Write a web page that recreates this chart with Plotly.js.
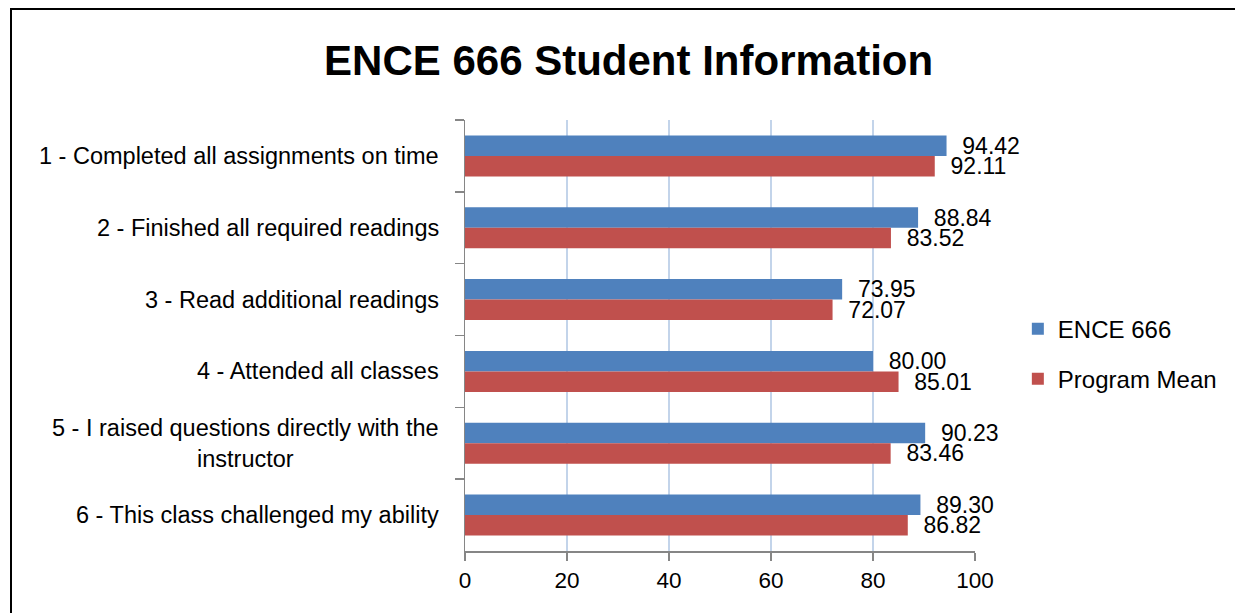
<!DOCTYPE html>
<html>
<head>
<meta charset="utf-8">
<script src="https://cdn.plot.ly/plotly-3.0.1.min.js"></script>
<style>
  html, body { margin: 0; padding: 0; background: #fff; }
  #wrap { position: relative; width: 1235px; height: 613px; overflow: hidden; }
  #chart { width: 1235px; height: 613px; }
  #frame { position: absolute; left: 10px; top: 8px; width: 1240px; height: 620px;
           border: 2px solid #000; pointer-events: none; box-sizing: border-box; }
</style>
</head>
<body>
<div id="wrap">
  <div id="chart"></div>
  <div id="frame"></div>
</div>
<script>
const categories = [
  "1 - Completed all assignments on time",
  "2 - Finished all required readings",
  "3 - Read additional readings",
  "4 - Attended all classes",
  "5 - I raised questions directly with the<br>instructor",
  "6 - This class challenged my ability"
];
const ence666 = [94.42, 88.84, 73.95, 80.00, 90.23, 89.30];
const programMean = [92.11, 83.52, 72.07, 85.01, 83.46, 86.82];
const seriesNames = ["ENCE 666", "Program Mean"];
const xTicks = [0, 20, 40, 60, 80, 100];

const FONT = "Liberation Sans, Arial, sans-serif";
const catFont = {family: FONT, size: 23.5, color: "#000"};
const valFont = {family: FONT, size: 23, color: "#000"};

function barTrace(name, values, color, group) {
  return {
    type: "bar",
    orientation: "h",
    name: name,
    y: categories,
    x: values,
    marker: {color: color},
    text: values.map(v => "\u00a0\u00a0" + v.toFixed(2)),
    textposition: "outside",
    textfont: valFont,
    constraintext: "none",
    cliponaxis: false,
    legendgroup: group,
    hoverinfo: "x"
  };
}

const data = [
  barTrace(seriesNames[0], ence666, "#4f81bd", "a"),
  barTrace(seriesNames[1], programMean, "#c0504d", "b")
];

const annotations = categories.map(c => ({
  text: c,
  xref: "paper", x: 0, xanchor: "right", xshift: -24,
  yref: "y", y: c, yanchor: "middle",
  align: "center",
  showarrow: false,
  font: catFont
}));

const layout = {
  width: 1235, height: 613,
  margin: {l: 465, r: 260, t: 120, b: 62},
  paper_bgcolor: "#fff", plot_bgcolor: "#fff",
  font: {family: FONT, color: "#000"},
  title: {
    text: "<b>ENCE 666 Student Information</b>",
    font: {family: FONT, size: 42, color: "#000"},
    xref: "container", x: 0.509, xanchor: "center",
    yref: "container", y: 1 - 60/613, yanchor: "middle"
  },
  barmode: "group",
  bargap: 0.43,
  bargroupgap: 0,
  showlegend: true,
  legend: {
    x: 1.084, xanchor: "left", y: 0.457, yanchor: "middle",
    font: {family: FONT, size: 24, color: "#000"},
    traceorder: "grouped", tracegroupgap: 16,
    bgcolor: "rgba(0,0,0,0)"
  },
  xaxis: {
    range: [0, 100],
    tickvals: xTicks,
    ticktext: xTicks.map(String),
    ticks: "outside", ticklen: 8, tickwidth: 1.5, tickcolor: "#868686",
    showline: true, linecolor: "#868686", linewidth: 1.5,
    showgrid: true, gridcolor: "#c3d4ea", gridwidth: 1.5,
    zeroline: false,
    tickfont: {family: FONT, size: 22.5, color: "#000"},
    fixedrange: true
  },
  yaxis: {
    type: "category",
    categoryorder: "array", categoryarray: categories,
    autorange: "reversed",
    ticks: "outside", tickson: "boundaries", ticklen: 9, tickwidth: 1.5, tickcolor: "#868686",
    showline: true, linecolor: "#868686", linewidth: 1.5,
    showgrid: false, zeroline: false,
    showticklabels: false,
    fixedrange: true
  },
  annotations: annotations
};

Plotly.newPlot("chart", data, layout, {displayModeBar: false, staticPlot: true});
</script>
</body>
</html>
